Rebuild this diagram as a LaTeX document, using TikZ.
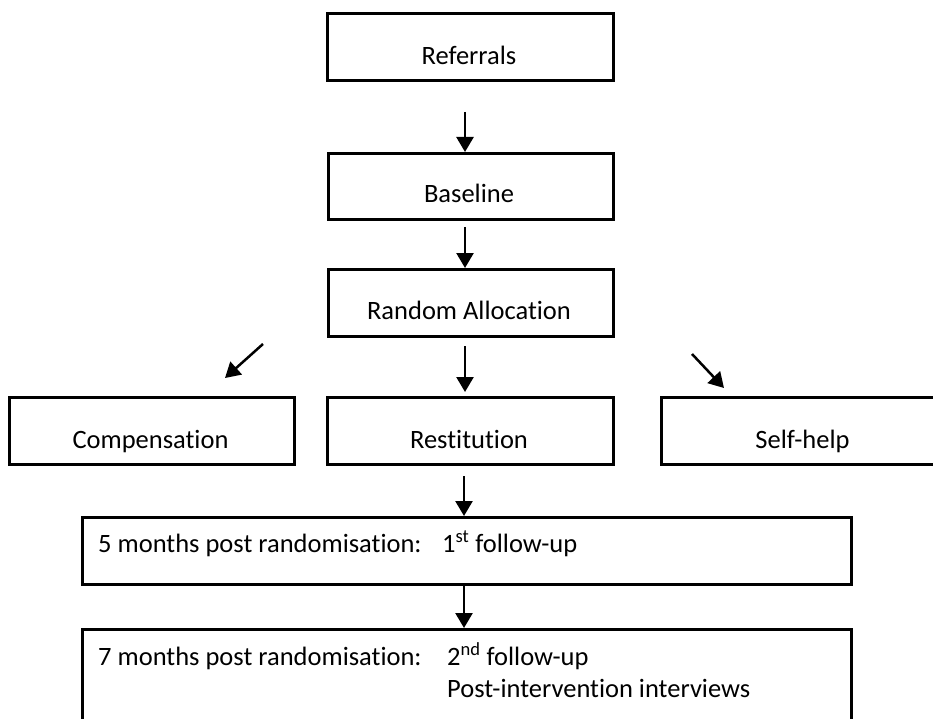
\documentclass[tikz,border=0pt]{standalone}
\usepackage{fontspec}
\setmainfont{Carlito}[Ligatures={NoCommon}]
\usetikzlibrary{arrows.meta}
\begin{document}
\begin{tikzpicture}[x=1pt,y=-1pt,
  box/.style={draw, line width=2.8pt, inner sep=0pt, anchor=north west},
  lbl/.style={anchor=base, inner sep=0pt, font=\fontsize{26.5}{32}\selectfont},
  arr/.style={line width=2.5pt, -{Triangle[width=17pt,length=15pt]}}]
\useasboundingbox (0,0) rectangle (933,719);
\fill[white] (0,0) rectangle (933,719);
\clip (0,0) rectangle (933,719);
% boxes
\node[box, minimum width=286pt, minimum height=67pt] (ref)  at (326,12)  {};
\node[box, minimum width=285pt, minimum height=66pt] (base) at (327,152) {};
\node[box, minimum width=285pt, minimum height=67pt] (rand) at (327,268) {};
\node[box, minimum width=285pt, minimum height=67pt] (comp) at (8,396)   {};
\node[box, minimum width=286pt, minimum height=67pt] (rest) at (326,396) {};
\node[box, minimum width=285pt, minimum height=67pt] (self) at (660,396) {};
\node[box, minimum width=769pt, minimum height=67pt] (fu1)  at (81,516)  {};
\node[box, minimum width=769pt, minimum height=140pt] (fu2) at (81,628)  {};
% labels
\node[lbl] (refl)  at (469,65)    {Referrals};
\node[lbl] (basel) at (469,203)   {Baseline};
\node[lbl] (randl) at (469,319)   {Random Allocation};
\node[lbl] (compl) at (150.5,448) {Compensation};
\node[lbl] (restl) at (469,448)   {Restitution};
\node[lbl] (selfl) at (802.5,448) {Self-help};
\node[lbl, anchor=base west] (fu1a) at (98,552)  {5 months post randomisation:};
\node[lbl, anchor=base west] (fu1b) at (442,552) {1\textsuperscript{st} follow-up};
\node[lbl, anchor=base west] (fu2a) at (98,665)  {7 months post randomisation:};
\node[lbl, anchor=base west] (fu2b) at (447,665) {2\textsuperscript{nd} follow-up};
\node[lbl, anchor=base west] (fu2c) at (447,697) {Post-intervention interviews};
% arrows
\coordinate (a1) at (465,112);
\coordinate (a2) at (465,227);
\coordinate (a3s) at (465,346);
\coordinate (a3e) at (465,392);
\coordinate (lds) at (263,344);
\coordinate (lde) at (225,378);
\coordinate (rds) at (692,354);
\coordinate (rde) at (724,388);
\coordinate (a4) at (464,476);
\coordinate (a5) at (464,583);
\draw[arr] (a1) -- (a1 |- base.north);
\draw[arr] (a2) -- (a2 |- rand.north);
\draw[arr] (a3s) -- (a3e);
\draw[arr] (lds) -- (lde);
\draw[arr] (rds) -- (rde);
\draw[arr] (a4) -- (a4 |- fu1.north);
\draw[arr] (a5 |- fu1.south) -- (a5 |- fu2.north);
\end{tikzpicture}
\end{document}
